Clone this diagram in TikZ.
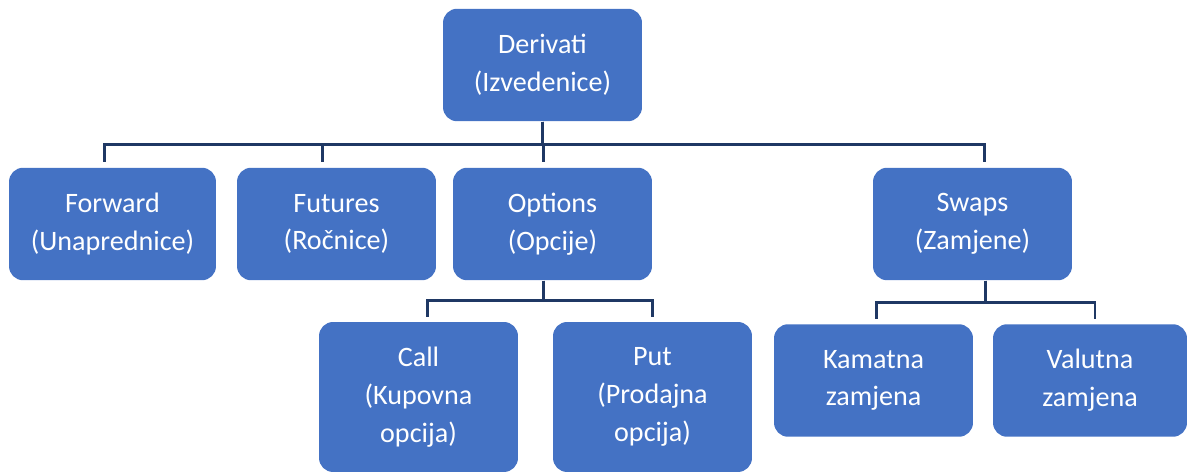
\documentclass[tikz,border=0pt]{standalone}
\usepackage{fontspec}
\setmainfont{Carlito}
\definecolor{boxblue}{HTML}{4472C4}
\definecolor{linenavy}{HTML}{1F3864}
\begin{document}
\begin{tikzpicture}[x=0.02cm,y=-0.02cm,
    link/.style={draw=linenavy,line width=1.3pt,shorten >=2.8pt}]

      \useasboundingbox (0,0) rectangle (1187,472);

      \begin{scope}[every node/.style={fill=boxblue,rounded corners=8pt,
          text=white,align=center,inner sep=0pt,
          font=\fontsize{16}{21.5}\selectfont,
          minimum width=3.98cm,minimum height=2.25cm}]
        \node (root) at (542.5,65)   {Derivati\\(Izvedenice)};
        \node[minimum width=4.14cm] (fwd) at (112.5,224) {Forward\\(Unaprednice)};
        \node (fut)  at (336.5,224)  {Futures\\(Ročnice)};
        \node (opt)  at (552.5,224)  {Options\\(Opcije)};
        \node (swp)  at (972.5,224)  {Swaps\\(Zamjene)};
        \node[minimum height=3cm] (call) at (418.5,397) {Call\\(Kupovna\\opcija)};
        \node[minimum height=3cm] (put)  at (652.5,397) {Put\\(Prodajna\\opcija)};
        \node (kam)  at (873.5,380.5) {Kamatna\\zamjena};
        \node[minimum width=3.88cm] (val) at (1090,380.5) {Valutna\\zamjena};
      \end{scope}

      \begin{scope}
        \draw[link] (root.south) -- ++(0,23) -| ([xshift=-0.16cm]fwd.north);
        \draw[link] (root.south) -- ++(0,23) -| ([xshift=-0.28cm]fut.north);
        \draw[link] (root.south) -- ++(0,23) -| ([xshift=-0.18cm]opt.north);
        \draw[link] (root.south) -- ++(0,23) -| ([xshift=0.24cm]swp.north);
        \draw[link] ([xshift=-0.18cm]opt.south) -- ++(0,20) -| ([xshift=0.18cm]call.north);
        \draw[link] ([xshift=-0.18cm]opt.south) -- ++(0,20) -| (put.north);
        \draw[link] ([xshift=0.26cm]swp.south) -- ++(0,22) -| ([xshift=0.06cm]kam.north);
        \draw[link] ([xshift=0.26cm]swp.south) -- ++(0,22) -| ([xshift=0.1cm]val.north);
      \end{scope}

    \end{tikzpicture}
\end{document}
